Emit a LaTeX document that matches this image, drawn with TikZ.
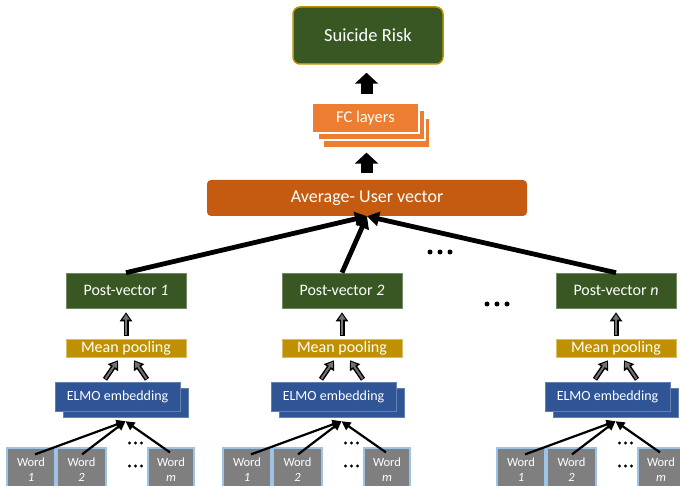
\documentclass[tikz,border=0pt]{standalone}
\usepackage{fontspec}
\setmainfont{Carlito}
\usetikzlibrary{arrows.meta,calc}
\definecolor{dkgreen}{HTML}{385723}
\definecolor{goldc}{HTML}{BF9000}
\definecolor{rust}{HTML}{C55A11}
\definecolor{orng}{HTML}{ED7D31}
\definecolor{elmoblue}{HTML}{2F5597}
\definecolor{wordgray}{HTML}{7F7F7F}
\definecolor{wordedge}{HTML}{9DC3E6}
\tikzset{
  box/.style={rectangle, inner sep=0pt, text=white},
  riskbox/.style={box, fill=dkgreen, draw=goldc, line width=1.5pt, rounded corners=7pt,
    minimum width=150pt, minimum height=57pt, font=\fontsize{18.5}{22}\selectfont},
  fcbox/.style={box, fill=orng, draw=white, line width=1.2pt,
    minimum width=107pt, minimum height=30pt, font=\fontsize{16.5}{20}\selectfont},
  avgbox/.style={box, fill=rust, rounded corners=4pt,
    minimum width=320pt, minimum height=36pt, font=\fontsize{18}{22}\selectfont},
  pvbox/.style={box, fill=dkgreen, draw=dkgreen!70!white, line width=0.6pt,
    minimum width=120pt, minimum height=35pt, font=\fontsize{16}{19}\selectfont},
  mpbox/.style={box, fill=goldc, draw=goldc!60!white, line width=0.6pt,
    minimum width=120pt, minimum height=18pt, font=\fontsize{16}{19}\selectfont},
  elmobox/.style={box, fill=elmoblue, draw=elmoblue!75!white, line width=0.5pt,
    minimum width=125pt, minimum height=29pt, font=\fontsize{14}{17}\selectfont},
  wordbox/.style={box, fill=wordgray, draw=wordedge, line width=1.2pt, align=center,
    minimum height=44pt, font=\fontsize{12.5}{15}\selectfont},
  bigarrow/.style={line width=12pt, -{Triangle[length=11pt,width=23pt]}},
  thickarrow/.style={line width=4.8pt, -{Triangle[length=12pt,width=14pt]}},
  thinarrow/.style={line width=2.2pt, -{Triangle[length=9pt,width=9pt]}},
  grayout/.style={line width=5pt, black, -{Triangle[length=9pt,width=12pt]}},
  grayin/.style={line width=2pt, black!55, -{Triangle[length=5.5pt,width=6.5pt]}, shorten >=1.8pt, shorten <=0.8pt},
}
\begin{document}
\begin{tikzpicture}[x=1pt,y=-1pt]
\fill[white] (0,0) rectangle (680,486);
\useasboundingbox (0,0) rectangle (680,486);

% top part
\node[riskbox] (risk) at (368,35.5) {Suicide Risk};
\node[fcbox] (fc3) at (376.5,133) {};
\node[fcbox] (fc2) at (371.5,125) {};
\node[fcbox] (fc) at (365.5,118) {FC layers};
\node[avgbox] (avg) at (367,198) {Average- User vector};

\draw[bigarrow, shorten <=8pt, shorten >=8pt] (fc.north -| 366.5,0) -- (risk.south -| 366.5,0);
\draw[bigarrow, shorten <=7pt, shorten >=4pt] (avg.north -| 366.5,0) -- (fc3.south -| 366.5,0);

\foreach \d/\n/\lab in {0/a/1, 216/b/2, 490/c/n} {
  \node[pvbox] (pv\n) at (126+\d,290.5) {Post-vector \textit{\lab}};
  \node[mpbox] (mp\n) at (126+\d,348) {Mean pooling};
  \node[elmobox] (elb\n) at (125.5+\d,402.5) {};
  \node[elmobox] (el\n) at (117.5+\d,396.5) {ELMO embedding};
  \node[wordbox, minimum width=48pt] (wa\n) at (31+\d,470) {Word\\\textit{1}};
  \node[wordbox, minimum width=49pt] (wb\n) at (81.5+\d,470) {Word\\\textit{2}};
  \node[wordbox, minimum width=46pt] (wm\n) at (171+\d,470) {Word\\\textit{m}};
  % dots
  \foreach \xx in {129.5,135.5,141.5} {
    \fill (\xx+\d,443) circle (1.6pt);
    \fill (\xx+\d,466) circle (1.6pt);
  }
  % word arrows
  \coordinate (tip\n) at ($(elb\n.south)+(0,4)$);
  \draw[thinarrow] ($(wa\n.north)+(4,7)$) -- (tip\n);
  \draw[thinarrow] ($(wb\n.north)+(0.5,7)$) -- (tip\n);
  \draw[thinarrow] ($(wm\n.north)+(-1,5)$) -- (tip\n);
  % elmo -> mean pooling
  \draw[grayout] ($(mp\n.south)+(-21,22)$) -- ($(mp\n.south)+(-8,3)$);
  \draw[grayin]  ($(mp\n.south)+(-21,22)$) -- ($(mp\n.south)+(-8,3)$);
  \draw[grayout] ($(mp\n.south)+(21,22)$) -- ($(mp\n.south)+(8,3)$);
  \draw[grayin]  ($(mp\n.south)+(21,22)$) -- ($(mp\n.south)+(8,3)$);
  % mean pooling -> post vector
  \draw[grayout, shorten <=3pt, shorten >=4pt] (mp\n.north) -- (pv\n.south);
  \draw[grayin, shorten <=3.8pt, shorten >=5.8pt] (mp\n.north) -- (pv\n.south);
  % post vector -> average
  \draw[thickarrow] (pv\n.north) -- (avg.south);
}

% big dots
\foreach \xx in {430,440,450} \fill (\xx,252) circle (2.5pt);
\foreach \xx in {487,497,507} \fill (\xx,304) circle (2.5pt);
\end{tikzpicture}
\end{document}
